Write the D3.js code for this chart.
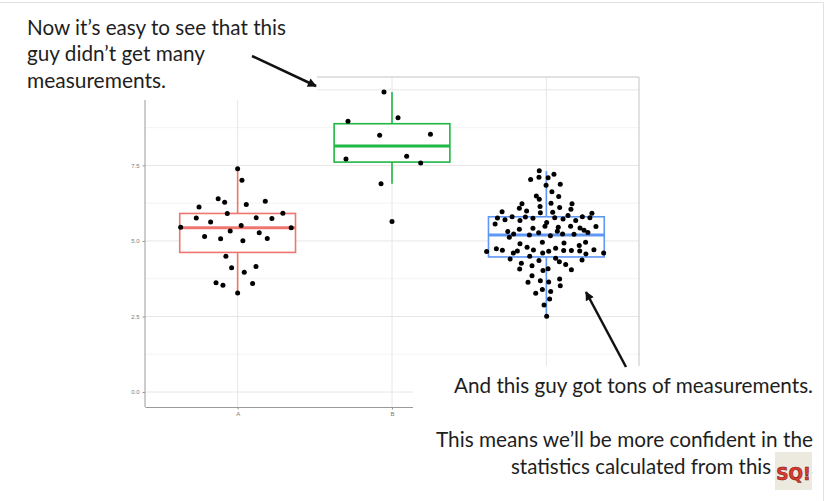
<!DOCTYPE html>
<html>
<head>
<meta charset="utf-8">
<script src="https://cdn.jsdelivr.net/npm/d3@7"></script>
<style>
  body { margin: 0; background: #fff; }
  svg { display: block; }
</style>
</head>
<body>
<script>
// data
const categories = ['A', 'B', 'C'];

const valuesA = [7.39, 7.01, 6.12, 6.40, 6.28, 6.21, 6.31, 5.91, 5.92, 5.76, 5.63, 5.77, 5.74, 5.45, 5.51,
  5.44, 5.33, 5.15, 5.07, 5.01, 5.27, 5.08, 4.49, 4.11, 3.96, 4.15, 3.62, 3.53, 3.59, 3.28];
const jitterA = [0, 0.028, -0.25, -0.126, -0.084, 0.056, 0.179, -0.067, 0.293, -0.268, -0.175, 0.12, 0.222, -0.369, 0.023,
  0.347, -0.048, -0.214, -0.11, 0.034, 0.14, 0.192, -0.076, -0.039, 0.043, 0.119, -0.14, -0.095, 0.097, 0];

const valuesB = [9.93, 9.08, 8.96, 8.50, 8.53, 7.71, 7.80, 7.58, 6.89, 5.64];
const jitterB = [-0.052, 0.039, -0.285, -0.08, 0.249, -0.298, 0.095, 0.186, -0.071, 0];

const valuesC = [7.32, 7.21, 7.03, 7.11, 7.09, 6.88, 6.84, 6.63, 6.49, 6.38, 6.47, 6.25, 6.23, 6.08, 6.14,
  6.11, 6.23, 6.05, 5.97, 5.99, 5.93, 5.95, 5.92, 5.76, 5.70, 5.80, 5.68, 5.79, 5.75, 5.77,
  5.73, 5.84, 5.68, 5.80, 5.77, 5.56, 5.61, 5.49, 5.45, 5.48, 5.49, 5.43, 5.39, 5.31, 5.23,
  5.20, 5.27, 5.42, 5.17, 5.32, 5.23, 5.22, 5.35, 5.28, 5.12,
  4.91, 4.96, 4.93, 4.96, 4.85, 4.65, 4.74, 4.69, 4.60, 4.67, 4.79, 4.70, 4.60, 4.66, 4.76,
  4.68, 4.68, 4.67, 4.57, 4.71, 4.60, 4.49, 4.40, 4.35, 4.43, 4.31, 4.37, 4.26, 4.18, 4.08,
  4.07, 4.02, 4.22, 4.05, 3.85, 3.68, 3.63, 3.64, 3.74, 3.52, 3.39, 3.27, 3.33, 3.08, 2.88, 2.51];
const jitterC = [-0.046, 0.049, -0.102, -0.048, 0.011, 0.090, -0.002, 0.036, -0.065, -0.046, 0.080, 0.030, -0.158, -0.175, -0.041,
  0.086, 0.166, 0.159, -0.287, -0.128, -0.039, 0.041, 0.295, -0.317, -0.268, -0.222, -0.171, -0.136, -0.087, 0.054,
  0.108, 0.140, 0.190, 0.233, 0.282, -0.332, 0.002, -0.009, 0.077, 0.321, 0.157, 0.218, -0.175, -0.250, -0.212,
  -0.110, -0.050, -0.087, 0.026, 0.071, 0.105, 0.179, 0.244, 0.269, -0.240,
  -0.171, -0.026, 0.114, 0.254, 0.213, -0.387, -0.324, -0.285, -0.214, -0.188, -0.125, -0.084, -0.024, 0.015, 0.060,
  0.112, 0.162, 0.216, 0.256, 0.308, 0.371, -0.108, -0.235, -0.048, 0.060, 0.084, 0.231, -0.162, -0.093, 0.011,
  -0.173, -0.022, 0.125, 0.162, -0.093, -0.039, -0.119, 0.015, 0.086, 0.090, -0.026, -0.069, 0.028, 0.021, -0.015, 0.002];

// box statistics per category
const whiskerLow = [3.28, 6.89, 2.50];
const q1 = [4.62, 7.61, 4.47];
const medians = [5.44, 8.14, 5.20];
const q3 = [5.91, 8.88, 5.80];
const whiskerHigh = [7.39, 9.93, 7.31];

const boxColors = ['#ef766e', '#1fb844', '#5f97f5'];
const yTicks = [0, 2.5, 5, 7.5];
const yMajorGrid = [0, 2.5, 5, 7.5, 10];
const yMinor = [1.25, 3.75, 6.25, 8.75];

const leftNote = ['Now it\u2019s easy to see that this', 'guy didn\u2019t get many', 'measurements.'];
const leftWidths = [259, 178, 139];
const rightNote = ['And this guy got tons of measurements.', 'This means we\u2019ll be more confident in the',
  'statistics calculated from this guy.'];
const rightWidths = [359, 377, 302];

const width = 825;
const height = 501;
const panel = { left: 145, right: 639, top: 77, bottom: 407 };

const svg = d3
  .select('body')
  .append('svg')
  .attr('width', width)
  .attr('height', height);

// scales (ggplot style 5% expansion on y, 0.6 on discrete x)
const allValues = valuesA.concat(valuesB, valuesC);
const yMax = d3.max(allValues);
const pad = yMax * 0.05;
const y = d3.scaleLinear().domain([-pad, yMax + pad]).range([panel.bottom, panel.top]);
const x = d3.scalePoint().domain(categories).range([panel.left, panel.right]).padding(0.6);
const step = x.step();

const graph = svg.append('g');

// grid
graph
  .selectAll('.minor')
  .data(yMinor)
  .enter()
  .append('line')
  .attr('x1', panel.left)
  .attr('x2', panel.right)
  .attr('y1', d => y(d))
  .attr('y2', d => y(d))
  .attr('stroke', '#f0f0f0')
  .attr('stroke-width', 0.8);

graph
  .selectAll('.major')
  .data(yMajorGrid)
  .enter()
  .append('line')
  .attr('x1', panel.left)
  .attr('x2', panel.right)
  .attr('y1', d => y(d))
  .attr('y2', d => y(d))
  .attr('stroke', '#e6e6e6')
  .attr('stroke-width', 1);

graph
  .selectAll('.vgrid')
  .data(categories)
  .enter()
  .append('line')
  .attr('x1', d => x(d))
  .attr('x2', d => x(d))
  .attr('y1', panel.top)
  .attr('y2', panel.bottom)
  .attr('stroke', '#e6e6e6')
  .attr('stroke-width', 1);

// top / right frame
graph
  .append('path')
  .attr('d', `M${panel.left},${panel.top}H${panel.right}V${panel.bottom}`)
  .attr('fill', 'none')
  .attr('stroke', '#c4c4c4')
  .attr('stroke-width', 1);

// axes
const yAxis = d3.axisLeft(y).tickValues(yTicks).tickSize(2.5).tickFormat(d3.format('.1f'));
const xAxis = d3.axisBottom(x).tickSize(2.5).tickSizeOuter(0);

const yAxisGroup = graph.append('g').attr('transform', `translate(${panel.left},0)`).call(yAxis);
const xAxisGroup = graph.append('g').attr('transform', `translate(0,${panel.bottom})`).call(xAxis);

yAxisGroup.select('.domain').attr('d', `M0,${panel.top}V${panel.bottom}`);
[yAxisGroup, xAxisGroup].forEach(g => {
  g.select('.domain').attr('stroke', '#9a9a9a');
  g.selectAll('.tick line').attr('stroke', '#9a9a9a');
  g.selectAll('text')
    .attr('fill', '#7a7a7a')
    .style('font-family', 'Liberation Sans, Arial, sans-serif')
    .style('font-size', '6px');
});
yAxisGroup.selectAll('text').attr('x', -5.5);
xAxisGroup.selectAll('text').attr('y', 5);

// boxplots
categories.forEach((cat, i) => {
  const cx = x(cat);
  const half = step * 0.375;
  const g = graph.append('g').attr('stroke', boxColors[i]).attr('fill', 'none');

  g.append('line')
    .attr('x1', cx).attr('x2', cx)
    .attr('y1', y(whiskerHigh[i])).attr('y2', y(q3[i]))
    .attr('stroke-width', 1.6);
  g.append('line')
    .attr('x1', cx).attr('x2', cx)
    .attr('y1', y(q1[i])).attr('y2', y(whiskerLow[i]))
    .attr('stroke-width', 1.6);
  g.append('rect')
    .attr('x', cx - half)
    .attr('width', half * 2)
    .attr('y', y(q3[i]))
    .attr('height', y(q1[i]) - y(q3[i]))
    .attr('fill', '#fff')
    .attr('stroke-width', 1.6);
  g.append('line')
    .attr('x1', cx - half).attr('x2', cx + half)
    .attr('y1', y(medians[i])).attr('y2', y(medians[i]))
    .attr('stroke-width', 3);
});

// jittered points
const points = [
  { cat: 'A', values: valuesA, jitter: jitterA },
  { cat: 'B', values: valuesB, jitter: jitterB },
  { cat: 'C', values: valuesC, jitter: jitterC }
];

points.forEach(p => {
  graph
    .append('g')
    .selectAll('circle')
    .data(p.values)
    .enter()
    .append('circle')
    .attr('cx', (d, i) => x(p.cat) + p.jitter[i] * step)
    .attr('cy', d => y(d))
    .attr('r', 2.5)
    .attr('fill', '#000');
});

// slide text boxes sit on top of the pasted chart
svg.append('rect').attr('x', 0).attr('y', 0).attr('width', 317).attr('height', 100).attr('fill', '#fff');
svg.append('rect').attr('x', 413).attr('y', 366).attr('width', width - 413).attr('height', height - 366).attr('fill', '#fff');

// slide frame
svg
  .append('path')
  .attr('d', `M0,2.5H823.5V${height}`)
  .attr('fill', 'none')
  .attr('stroke', '#e2e2e2')
  .attr('stroke-width', 1);

const textFont = 'Lato, "Open Sans", sans-serif';

svg
  .append('g')
  .selectAll('text')
  .data(leftNote)
  .enter()
  .append('text')
  .attr('x', 27)
  .attr('y', (d, i) => 35 + i * 26.3)
  .attr('textLength', (d, i) => leftWidths[i])
  .attr('lengthAdjust', 'spacingAndGlyphs')
  .attr('fill', '#1e1e1e')
  .style('font-family', textFont)
  .style('font-size', '20.5px')
  .text(d => d);

svg
  .append('g')
  .selectAll('text')
  .data(rightNote)
  .enter()
  .append('text')
  .attr('x', (d, i) => 813 - rightWidths[i])
  .attr('y', (d, i) => [393, 447, 473.5][i])
  .attr('textLength', (d, i) => rightWidths[i])
  .attr('lengthAdjust', 'spacingAndGlyphs')
  .attr('fill', '#1e1e1e')
  .style('font-family', textFont)
  .style('font-size', '20.5px')
  .text(d => d);

// arrows
const defs = svg.append('defs');
defs
  .append('marker')
  .attr('id', 'head')
  .attr('viewBox', '0 0 10 10')
  .attr('refX', 9)
  .attr('refY', 5)
  .attr('markerWidth', 11)
  .attr('markerHeight', 9)
  .attr('markerUnits', 'userSpaceOnUse')
  .attr('orient', 'auto')
  .append('path')
  .attr('d', 'M0,0L10,5L0,10z')
  .attr('fill', '#111');

svg
  .append('line')
  .attr('x1', 252).attr('y1', 56)
  .attr('x2', 316).attr('y2', 86)
  .attr('stroke', '#111')
  .attr('stroke-width', 2.5)
  .attr('marker-end', 'url(#head)');

svg
  .append('line')
  .attr('x1', 626).attr('y1', 367)
  .attr('x2', 586).attr('y2', 292)
  .attr('stroke', '#111')
  .attr('stroke-width', 2.5)
  .attr('marker-end', 'url(#head)');

// little logo stamp over the last word
const logo = svg.append('g').attr('transform', 'translate(775,452)');
logo.append('rect').attr('width', 37).attr('height', 38).attr('fill', '#ece9df');
logo
  .append('text')
  .attr('x', 18.5)
  .attr('y', 28)
  .attr('text-anchor', 'middle')
  .attr('fill', '#e0392e')
  .attr('stroke', '#7a1a14')
  .attr('stroke-width', 0.6)
  .style('font-family', 'DejaVu Sans, sans-serif')
  .style('font-weight', 'bold')
  .style('font-size', '17px')
  .text('SQ!');
</script>
</body>
</html>
